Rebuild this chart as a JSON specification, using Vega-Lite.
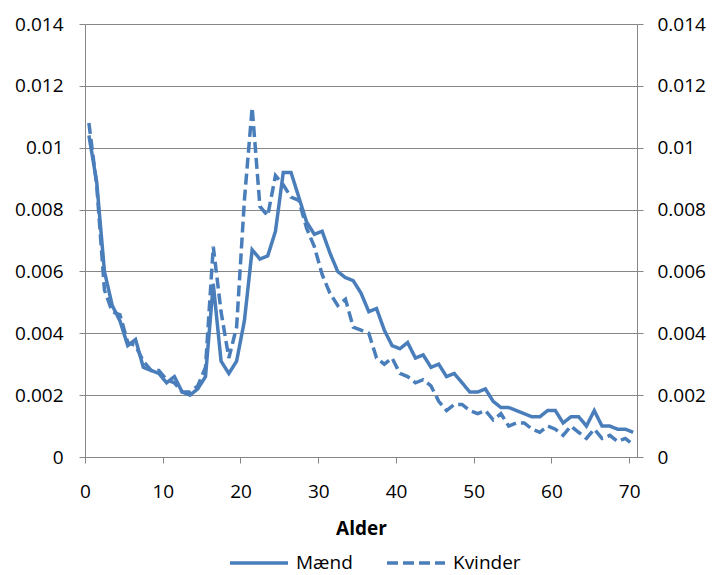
{
  "$schema": "https://vega.github.io/schema/vega-lite/v6.json",
  "width": 552,
  "height": 433,
  "autosize": {"type": "none"},
  "padding": {"left": 85, "top": 24, "right": 76, "bottom": 118},
  "background": "white",
  "config": {
    "view": {"stroke": null},
    "font": "Open Sans",
    "axis": {
      "labelFont": "Open Sans",
      "labelFontSize": 19,
      "labelColor": "#000000",
      "domainColor": "#868686",
      "tickColor": "#868686",
      "gridColor": "#868686",
      "domainWidth": 1,
      "tickWidth": 1,
      "gridWidth": 1,
      "tickSize": 6
    },
    "legend": {"labelFont": "Open Sans", "labelFontSize": 19, "labelColor": "#000000"}
  },
  "datasets": {
    "rates": [
      {"age":0.5,"sex":"Mænd","rate":0.0104},{"age":1.5,"sex":"Mænd","rate":0.0089},{"age":2.5,"sex":"Mænd","rate":0.0060},{"age":3.5,"sex":"Mænd","rate":0.0049},{"age":4.5,"sex":"Mænd","rate":0.0044},
      {"age":5.5,"sex":"Mænd","rate":0.0036},{"age":6.5,"sex":"Mænd","rate":0.0038},{"age":7.5,"sex":"Mænd","rate":0.0029},{"age":8.5,"sex":"Mænd","rate":0.0028},{"age":9.5,"sex":"Mænd","rate":0.0027},
      {"age":10.5,"sex":"Mænd","rate":0.0024},{"age":11.5,"sex":"Mænd","rate":0.0026},{"age":12.5,"sex":"Mænd","rate":0.0021},{"age":13.5,"sex":"Mænd","rate":0.0020},{"age":14.5,"sex":"Mænd","rate":0.0022},
      {"age":15.5,"sex":"Mænd","rate":0.0026},{"age":16.5,"sex":"Mænd","rate":0.0056},{"age":17.5,"sex":"Mænd","rate":0.0031},{"age":18.5,"sex":"Mænd","rate":0.0027},{"age":19.5,"sex":"Mænd","rate":0.0031},
      {"age":20.5,"sex":"Mænd","rate":0.0044},{"age":21.5,"sex":"Mænd","rate":0.0067},{"age":22.5,"sex":"Mænd","rate":0.0064},{"age":23.5,"sex":"Mænd","rate":0.0065},{"age":24.5,"sex":"Mænd","rate":0.0073},
      {"age":25.5,"sex":"Mænd","rate":0.0092},{"age":26.5,"sex":"Mænd","rate":0.0092},{"age":27.5,"sex":"Mænd","rate":0.0084},{"age":28.5,"sex":"Mænd","rate":0.0076},{"age":29.5,"sex":"Mænd","rate":0.0072},
      {"age":30.5,"sex":"Mænd","rate":0.0073},{"age":31.5,"sex":"Mænd","rate":0.0066},{"age":32.5,"sex":"Mænd","rate":0.0060},{"age":33.5,"sex":"Mænd","rate":0.0058},{"age":34.5,"sex":"Mænd","rate":0.0057},
      {"age":35.5,"sex":"Mænd","rate":0.0053},{"age":36.5,"sex":"Mænd","rate":0.0047},{"age":37.5,"sex":"Mænd","rate":0.0048},{"age":38.5,"sex":"Mænd","rate":0.0041},{"age":39.5,"sex":"Mænd","rate":0.0036},
      {"age":40.5,"sex":"Mænd","rate":0.0035},{"age":41.5,"sex":"Mænd","rate":0.0037},{"age":42.5,"sex":"Mænd","rate":0.0032},{"age":43.5,"sex":"Mænd","rate":0.0033},{"age":44.5,"sex":"Mænd","rate":0.0029},
      {"age":45.5,"sex":"Mænd","rate":0.0030},{"age":46.5,"sex":"Mænd","rate":0.0026},{"age":47.5,"sex":"Mænd","rate":0.0027},{"age":48.5,"sex":"Mænd","rate":0.0024},{"age":49.5,"sex":"Mænd","rate":0.0021},
      {"age":50.5,"sex":"Mænd","rate":0.0021},{"age":51.5,"sex":"Mænd","rate":0.0022},{"age":52.5,"sex":"Mænd","rate":0.0018},{"age":53.5,"sex":"Mænd","rate":0.0016},{"age":54.5,"sex":"Mænd","rate":0.0016},
      {"age":55.5,"sex":"Mænd","rate":0.0015},{"age":56.5,"sex":"Mænd","rate":0.0014},{"age":57.5,"sex":"Mænd","rate":0.0013},{"age":58.5,"sex":"Mænd","rate":0.0013},{"age":59.5,"sex":"Mænd","rate":0.0015},
      {"age":60.5,"sex":"Mænd","rate":0.0015},{"age":61.5,"sex":"Mænd","rate":0.0011},{"age":62.5,"sex":"Mænd","rate":0.0013},{"age":63.5,"sex":"Mænd","rate":0.0013},{"age":64.5,"sex":"Mænd","rate":0.0010},
      {"age":65.5,"sex":"Mænd","rate":0.0015},{"age":66.5,"sex":"Mænd","rate":0.0010},{"age":67.5,"sex":"Mænd","rate":0.0010},{"age":68.5,"sex":"Mænd","rate":0.0009},{"age":69.5,"sex":"Mænd","rate":0.0009},
      {"age":70.5,"sex":"Mænd","rate":0.0008},
      {"age":0.5,"sex":"Kvinder","rate":0.0108},{"age":1.5,"sex":"Kvinder","rate":0.0088},{"age":2.5,"sex":"Kvinder","rate":0.0054},{"age":3.5,"sex":"Kvinder","rate":0.0047},{"age":4.5,"sex":"Kvinder","rate":0.0046},
      {"age":5.5,"sex":"Kvinder","rate":0.0037},{"age":6.5,"sex":"Kvinder","rate":0.0036},{"age":7.5,"sex":"Kvinder","rate":0.0031},{"age":8.5,"sex":"Kvinder","rate":0.0028},{"age":9.5,"sex":"Kvinder","rate":0.0028},
      {"age":10.5,"sex":"Kvinder","rate":0.0025},{"age":11.5,"sex":"Kvinder","rate":0.0024},{"age":12.5,"sex":"Kvinder","rate":0.0021},{"age":13.5,"sex":"Kvinder","rate":0.0021},{"age":14.5,"sex":"Kvinder","rate":0.0023},
      {"age":15.5,"sex":"Kvinder","rate":0.0029},{"age":16.5,"sex":"Kvinder","rate":0.0068},{"age":17.5,"sex":"Kvinder","rate":0.0047},{"age":18.5,"sex":"Kvinder","rate":0.0032},{"age":19.5,"sex":"Kvinder","rate":0.0042},
      {"age":20.5,"sex":"Kvinder","rate":0.0083},{"age":21.5,"sex":"Kvinder","rate":0.0113},{"age":22.5,"sex":"Kvinder","rate":0.0081},{"age":23.5,"sex":"Kvinder","rate":0.0078},{"age":24.5,"sex":"Kvinder","rate":0.0091},
      {"age":25.5,"sex":"Kvinder","rate":0.0088},{"age":26.5,"sex":"Kvinder","rate":0.0084},{"age":27.5,"sex":"Kvinder","rate":0.0083},{"age":28.5,"sex":"Kvinder","rate":0.0074},{"age":29.5,"sex":"Kvinder","rate":0.0068},
      {"age":30.5,"sex":"Kvinder","rate":0.0059},{"age":31.5,"sex":"Kvinder","rate":0.0053},{"age":32.5,"sex":"Kvinder","rate":0.0049},{"age":33.5,"sex":"Kvinder","rate":0.0051},{"age":34.5,"sex":"Kvinder","rate":0.0042},
      {"age":35.5,"sex":"Kvinder","rate":0.0041},{"age":36.5,"sex":"Kvinder","rate":0.0040},{"age":37.5,"sex":"Kvinder","rate":0.0032},{"age":38.5,"sex":"Kvinder","rate":0.0030},{"age":39.5,"sex":"Kvinder","rate":0.0032},
      {"age":40.5,"sex":"Kvinder","rate":0.0027},{"age":41.5,"sex":"Kvinder","rate":0.0026},{"age":42.5,"sex":"Kvinder","rate":0.0024},{"age":43.5,"sex":"Kvinder","rate":0.0025},{"age":44.5,"sex":"Kvinder","rate":0.0023},
      {"age":45.5,"sex":"Kvinder","rate":0.0018},{"age":46.5,"sex":"Kvinder","rate":0.0015},{"age":47.5,"sex":"Kvinder","rate":0.0017},{"age":48.5,"sex":"Kvinder","rate":0.0017},{"age":49.5,"sex":"Kvinder","rate":0.0015},
      {"age":50.5,"sex":"Kvinder","rate":0.0014},{"age":51.5,"sex":"Kvinder","rate":0.0015},{"age":52.5,"sex":"Kvinder","rate":0.0012},{"age":53.5,"sex":"Kvinder","rate":0.0014},{"age":54.5,"sex":"Kvinder","rate":0.0010},
      {"age":55.5,"sex":"Kvinder","rate":0.0011},{"age":56.5,"sex":"Kvinder","rate":0.0011},{"age":57.5,"sex":"Kvinder","rate":0.0009},{"age":58.5,"sex":"Kvinder","rate":0.0008},{"age":59.5,"sex":"Kvinder","rate":0.0010},
      {"age":60.5,"sex":"Kvinder","rate":0.0009},{"age":61.5,"sex":"Kvinder","rate":0.0007},{"age":62.5,"sex":"Kvinder","rate":0.0010},{"age":63.5,"sex":"Kvinder","rate":0.0008},{"age":64.5,"sex":"Kvinder","rate":0.0006},
      {"age":65.5,"sex":"Kvinder","rate":0.0009},{"age":66.5,"sex":"Kvinder","rate":0.0006},{"age":67.5,"sex":"Kvinder","rate":0.0007},{"age":68.5,"sex":"Kvinder","rate":0.0005},{"age":69.5,"sex":"Kvinder","rate":0.0006},
      {"age":70.5,"sex":"Kvinder","rate":0.0004}
    ]
  },
  "data": {"name": "rates"},
  "layer": [
    {
      "mark": {"type": "line", "color": "#4A7EBB", "strokeWidth": 3.5, "clip": false},
      "encoding": {
        "x": {
          "field": "age", "type": "quantitative",
          "scale": {"domain": [0, 71], "nice": false, "zero": false},
          "axis": {"values": [0, 10, 20, 30, 40, 50, 60, 70], "grid": false, "title": "Alder",
                   "titleFont": "Open Sans", "titleFontSize": 19, "titleFontWeight": "bold", "titleColor": "#000000",
                   "labelPadding": 19, "titlePadding": 18, "labelFlush": false}
        },
        "y": {
          "field": "rate", "type": "quantitative",
          "scale": {"domain": [0, 0.014], "nice": false},
          "axis": {"orient": "left", "values": [0, 0.002, 0.004, 0.006, 0.008, 0.01, 0.012, 0.014],
                   "format": "~g", "title": null, "grid": true, "labelPadding": 16}
        },
        "strokeDash": {
          "field": "sex", "type": "nominal",
          "scale": {"domain": ["Mænd", "Kvinder"], "range": [[1, 0], [11, 5]]},
          "legend": {"orient": "none", "legendX": 143, "legendY": 508, "direction": "horizontal", "title": null,
                     "symbolType": "stroke", "symbolSize": 3364, "symbolStrokeWidth": 3.5,
                     "symbolStrokeColor": "#4A7EBB", "columnPadding": 27, "labelOffset": 6}
        }
      }
    },
    {
      "mark": {"type": "line", "opacity": 0},
      "encoding": {
        "x": {"field": "age", "type": "quantitative"},
        "y": {
          "field": "rate", "type": "quantitative",
          "axis": {"orient": "right", "values": [0, 0.002, 0.004, 0.006, 0.008, 0.01, 0.012, 0.014],
                   "format": "~g", "title": null, "grid": false, "labelPadding": 14}
        },
        "detail": {"field": "sex", "type": "nominal"}
      }
    }
  ],
  "resolve": {"axis": {"y": "independent"}}
}
